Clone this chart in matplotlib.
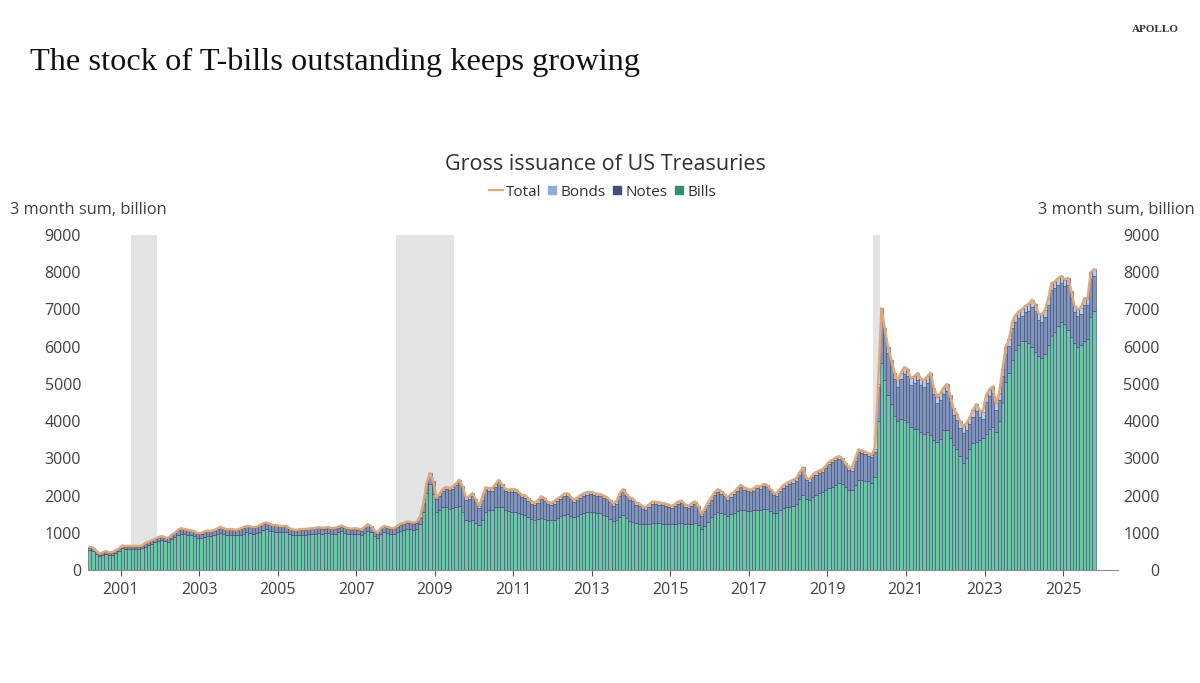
import numpy as np
import matplotlib.pyplot as plt
from matplotlib.lines import Line2D

plt.rcParams['font.family'] = ['Open Sans', 'DejaVu Sans']

# monthly 3-month sums, billion USD, Mar 2000 .. Oct 2025
total = [
    620, 600, 520, 440, 470, 510, 470, 480, 530, 580,                    # 2000 (Mar-Dec)
    660, 640, 650, 640, 650, 640, 660, 720, 760, 800, 840, 880,          # 2001
    910, 880, 860, 940, 1000, 1080, 1120, 1100, 1080, 1060, 1040, 990,   # 2002
    990, 1030, 1060, 1050, 1070, 1110, 1160, 1120, 1090, 1100, 1090, 1080,
    1110, 1150, 1180, 1170, 1150, 1160, 1200, 1250, 1280, 1240, 1210, 1200,
    1190, 1180, 1190, 1130, 1090, 1080, 1090, 1100, 1100, 1110, 1120, 1130,
    1150, 1130, 1140, 1150, 1120, 1130, 1160, 1195, 1150, 1120, 1110, 1120,
    1110, 1090, 1150, 1230, 1180, 1060, 1010, 1120, 1180, 1160, 1130, 1120,
    1180, 1240, 1260, 1300, 1290, 1270, 1300, 1430, 1800, 2350, 2600, 2400,  # 2008
    1950, 2050, 2180, 2230, 2200, 2240, 2330, 2420, 2250, 1950, 1980, 2060,
    1900, 1720, 1950, 2220, 2200, 2190, 2300, 2420, 2300, 2180, 2160, 2170,
    2170, 2100, 2020, 2010, 1930, 1850, 1800, 1870, 1980, 1930, 1830, 1800,
    1850, 1920, 1970, 2050, 2060, 1970, 1880, 1940, 2010, 2060, 2090, 2100,  # 2012
    2080, 2050, 2040, 2000, 1960, 1880, 1790, 1850, 2050, 2170, 2050, 1950,
    1920, 1820, 1780, 1710, 1690, 1760, 1840, 1830, 1820, 1800, 1780, 1750,
    1720, 1780, 1840, 1860, 1760, 1720, 1790, 1840, 1720, 1510, 1650, 1810,
    1950, 2080, 2170, 2120, 2040, 1950, 2030, 2100, 2200, 2285, 2220, 2180,  # 2016
    2150, 2200, 2260, 2250, 2310, 2290, 2180, 2080, 2060, 2180, 2280, 2330,
    2380, 2420, 2470, 2620, 2760, 2480, 2440, 2560, 2630, 2670, 2700, 2800,
    2910, 2960, 3020, 3060, 3000, 2870, 2760, 2740, 3000, 3240, 3200, 3180,
    3140, 3100, 3250, 5000, 7030, 6500, 6000, 5650, 5300, 5100, 5300, 5450,  # 2020
    5400, 5150, 5200, 5290, 5150, 5100, 5200, 5300, 4900, 4660, 4750, 4900,
    5000, 4700, 4350, 4200, 4000, 3860, 3950, 4100, 4300, 4460, 4300, 4250,
    4705, 4850, 4930, 4480, 4750, 5400, 5985, 6200, 6675, 6850, 6950, 7007,
    7100, 7150, 7258, 7150, 6900, 6855, 6990, 7300, 7706, 7750, 7840, 7900,  # 2024
    7800, 7850, 7500, 7100, 7000, 7050, 7300, 7300, 8000, 8080,             # 2025 (Jan-Oct)
]

bills = [
    530, 510, 440, 370, 400, 430, 400, 410, 450, 500,
    580, 560, 570, 560, 570, 560, 580, 630, 670, 710, 750, 790,
    810, 780, 760, 830, 880, 940, 980, 960, 950, 930, 910, 870,
    860, 890, 920, 910, 930, 960, 1000, 970, 940, 950, 940, 930,
    950, 980, 1010, 1000, 980, 990, 1030, 1070, 1100, 1060, 1040, 1030,
    1020, 1010, 1020, 970, 940, 930, 940, 950, 950, 960, 970, 980,
    990, 980, 990, 1000, 970, 980, 1010, 1040, 1000, 970, 960, 970,
    960, 940, 990, 1060, 1010, 910, 860, 960, 1020, 1000, 970, 960,
    1010, 1060, 1080, 1110, 1100, 1080, 1110, 1230, 1560, 2080, 2300, 2050,
    1550, 1620, 1680, 1680, 1650, 1660, 1700, 1720, 1560, 1350, 1310, 1330,
    1250, 1200, 1330, 1550, 1600, 1620, 1680, 1700, 1680, 1620, 1580, 1560,
    1550, 1520, 1500, 1480, 1420, 1380, 1330, 1360, 1400, 1380, 1340, 1330,
    1350, 1400, 1440, 1480, 1500, 1460, 1420, 1450, 1500, 1540, 1560, 1570,
    1560, 1540, 1520, 1480, 1440, 1380, 1320, 1330, 1420, 1480, 1400, 1320,
    1280, 1250, 1240, 1230, 1230, 1240, 1250, 1250, 1250, 1240, 1240, 1230,
    1230, 1240, 1250, 1250, 1240, 1230, 1240, 1250, 1220, 1100, 1180, 1300,
    1420, 1500, 1560, 1540, 1500, 1460, 1500, 1540, 1580, 1620, 1600, 1590,
    1590, 1600, 1620, 1620, 1640, 1630, 1580, 1540, 1530, 1600, 1660, 1690,
    1700, 1730, 1780, 1900, 2010, 1900, 1880, 1950, 2020, 2080, 2100, 2150,
    2200, 2240, 2280, 2330, 2300, 2220, 2150, 2150, 2280, 2420, 2420, 2400,
    2380, 2350, 2500, 4000, 5550, 5100, 4700, 4450, 4150, 4000, 4050, 4030,
    3980, 3850, 3800, 3780, 3720, 3660, 3700, 3620, 3500, 3450, 3520, 3760,
    3750, 3550, 3350, 3250, 3050, 2870, 3000, 3250, 3400, 3450, 3500, 3550,
    3650, 3780, 3850, 3700, 4000, 4500, 5050, 5300, 5650, 5900, 6050, 6150,
    6150, 6100, 5980, 5850, 5750, 5700, 5800, 6050, 6300, 6400, 6550, 6650,
    6600, 6450, 6250, 6100, 6000, 6050, 6150, 6200, 6800, 6950,
]

bonds = [
    30, 30, 25, 25, 20, 20, 20, 25, 25, 25,
    25, 20, 20, 20, 20, 20, 15, 15, 15, 15, 15, 15,
    10, 10, 10, 10, 10, 10, 10, 10, 10, 10, 10, 10,
    10, 10, 10, 10, 10, 10, 10, 10, 10, 10, 10, 10,
    10, 10, 10, 10, 10, 10, 10, 10, 10, 10, 10, 10,
    10, 10, 15, 15, 15, 15, 15, 15, 15, 15, 15, 15,
    25, 25, 30, 30, 30, 30, 30, 30, 30, 30, 30, 30,
    30, 30, 30, 30, 30, 30, 30, 30, 30, 30, 30, 30,
    30, 30, 30, 35, 35, 35, 35, 35, 40, 40, 45, 45,
    45, 50, 50, 55, 55, 55, 55, 60, 60, 60, 60, 60,
    60, 60, 60, 65, 65, 65, 65, 65, 65, 65, 65, 65,
    65, 65, 65, 65, 65, 65, 65, 65, 65, 65, 65, 65,
    65, 65, 65, 65, 65, 65, 65, 65, 65, 65, 65, 65,
    65, 65, 65, 65, 65, 65, 65, 65, 65, 65, 65, 65,
    65, 65, 65, 65, 65, 65, 65, 65, 65, 65, 65, 65,
    65, 65, 65, 65, 65, 65, 65, 65, 65, 65, 65, 65,
    65, 65, 65, 65, 65, 65, 65, 65, 65, 65, 65, 65,
    65, 65, 65, 65, 65, 65, 65, 65, 65, 65, 65, 65,
    70, 70, 70, 70, 70, 70, 70, 70, 70, 70, 70, 70,
    70, 70, 70, 70, 70, 70, 70, 70, 70, 70, 70, 70,
    70, 70, 70, 90, 120, 150, 170, 180, 180, 180, 180, 180,
    180, 180, 180, 180, 180, 180, 180, 180, 180, 180, 180, 180,
    180, 180, 180, 180, 180, 180, 180, 180, 180, 180, 180, 180,
    180, 180, 180, 180, 180, 180, 180, 180, 180, 180, 180, 180,
    180, 180, 180, 180, 180, 180, 180, 180, 180, 180, 180, 180,
    180, 180, 180, 180, 180, 180, 180, 180, 180, 180,
]

recessions = [(2001.25, 2001.917), (2008.0, 2009.5), (2020.167, 2020.333)]
year_ticks = list(range(2001, 2026, 2))

total = np.array(total, float)
bills = np.array(bills, float)
bonds = np.array(bonds, float)
notes = total - bills - bonds

x = 2000 + (2 + np.arange(len(total))) / 12.0
w = 1 / 12.0

c_bills = '#6cc7aa'
c_notes = '#8194c0'
c_bonds = '#b4cbec'
c_total = '#e2a877'
c_edge = '#36445f'

fig = plt.figure(figsize=(12, 6.83), dpi=100)
ax = fig.add_axes([88 / 1200, 1 - 570 / 683, (1118 - 88) / 1200, 335 / 683])

for a, b in recessions:
    ax.axvspan(a, b, color='#e4e4e4', lw=0, zorder=0)

ax.bar(x, bills, width=w, align='edge', color=c_bills, edgecolor=c_edge, lw=0.4, zorder=2)
ax.bar(x, notes, width=w, bottom=bills, align='edge', color=c_notes, edgecolor=c_edge, lw=0.4, zorder=2)
ax.bar(x, bonds, width=w, bottom=bills + notes, align='edge', color=c_bonds, edgecolor=c_edge, lw=0.4, zorder=2)
ax.plot(x + w / 2, total, color=c_total, lw=1.8, zorder=3, solid_joinstyle='round')

ax.set_xlim(2000 + 2 / 12.0, 2026.4)
ax.set_ylim(0, 9000)
ax.set_yticks(range(0, 9001, 1000))
ax.set_xticks(year_ticks)
ax.set_xticklabels([str(y) for y in year_ticks])
for s in ['top', 'left', 'right']:
    ax.spines[s].set_visible(False)
ax.spines['bottom'].set_color('#8c8c8c')
ax.tick_params(axis='x', length=4, color='#555555', labelsize=11.5, labelcolor='#404040', pad=5)
ax.tick_params(axis='y', length=0, labelsize=11.5, labelcolor='#404040', pad=5)

ax2 = ax.twinx()
ax2.set_ylim(0, 9000)
ax2.set_yticks(range(0, 9001, 1000))
for s in ['top', 'left', 'right', 'bottom']:
    ax2.spines[s].set_visible(False)
ax2.tick_params(axis='y', length=0, labelsize=11.5, labelcolor='#404040', pad=30)
for t in ax2.get_yticklabels():
    t.set_horizontalalignment('right')

fig.text(10 / 1200, 1 - 210 / 683, '3 month sum, billion', fontsize=11.8, color='#404040', va='center', ha='left')
fig.text(1195 / 1200, 1 - 210 / 683, '3 month sum, billion', fontsize=11.8, color='#404040', va='center', ha='right')

fig.text(605 / 1200, 1 - 165 / 683, 'Gross issuance of US Treasuries', fontsize=15.5, color='#303030', va='center', ha='center')

handles = [
    Line2D([], [], color=c_total, lw=1.5),
    Line2D([], [], marker='s', ls='', color='#8fabd8', markersize=6),
    Line2D([], [], marker='s', ls='', color='#3f5179', markersize=6),
    Line2D([], [], marker='s', ls='', color='#2f8f6f', markersize=6),
]
fig.legend(handles, ['Total', 'Bonds', 'Notes', 'Bills'], loc='center', bbox_to_anchor=(603 / 1200, 1 - 192 / 683),
           ncol=4, frameon=False, fontsize=11, handlelength=0.9, handletextpad=0.15, columnspacing=0.25,
           labelcolor='#303030')

fig.text(30 / 1200, 1 - 62 / 683, 'The stock of T-bills outstanding keeps growing', fontsize=23.3,
         family=['Liberation Serif', 'DejaVu Serif'], color='#111111', va='center', ha='left')
fig.text(1155 / 1200, 1 - 30 / 683, 'APOLLO', fontsize=8, family=['Liberation Serif', 'DejaVu Serif'],
         weight='bold', color='#333333', va='center', ha='center')

fig.savefig('out.png', dpi=100)
